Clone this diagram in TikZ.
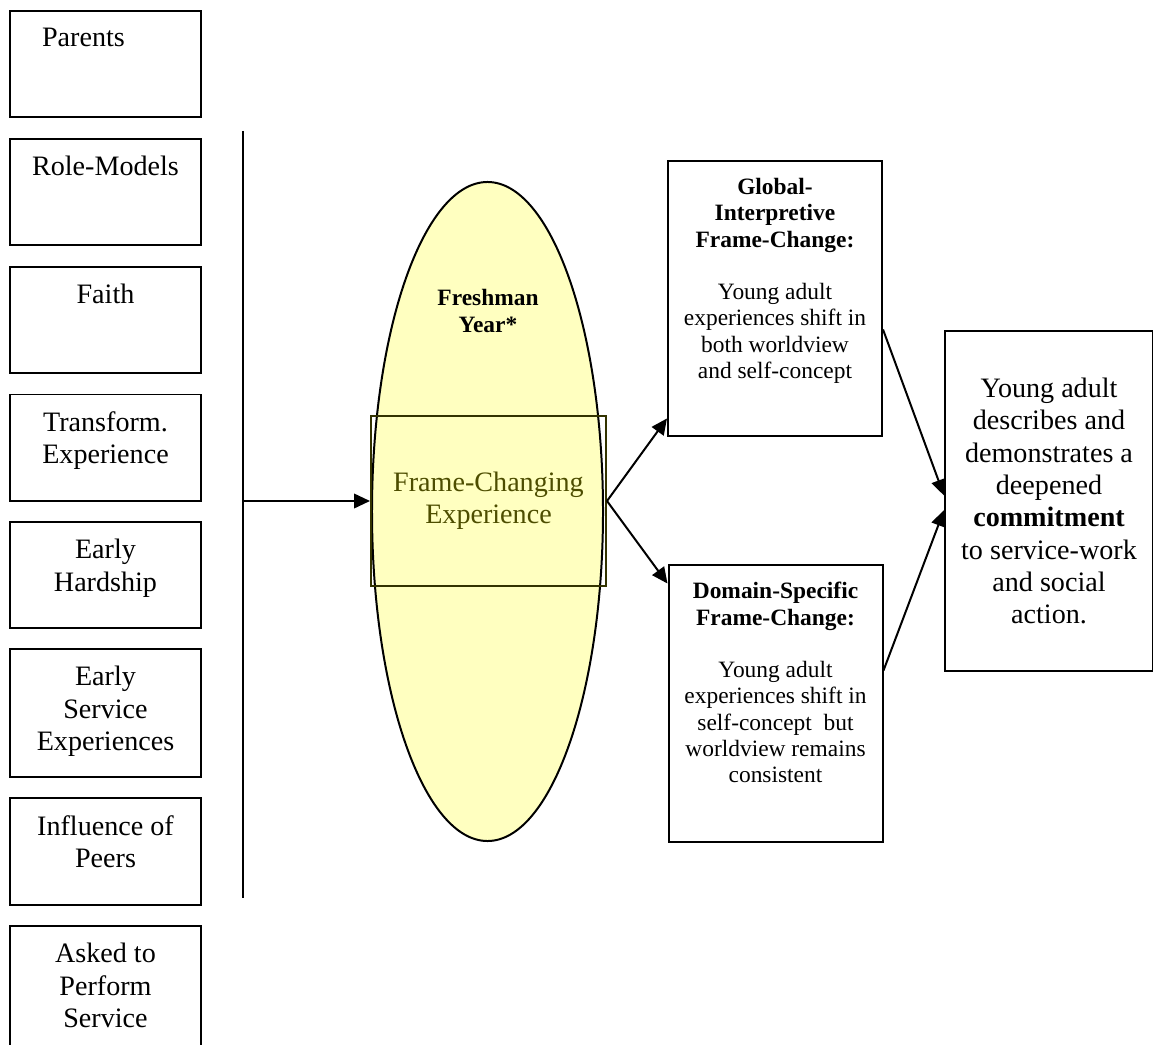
\documentclass[tikz,border=0pt]{standalone}
\usepackage{fontspec}
\setmainfont{Liberation Serif}
\usepackage{xcolor}
\usetikzlibrary{arrows.meta, shapes.geometric}
\definecolor{yearfill}{HTML}{FFFFC0}
\definecolor{olivetext}{HTML}{4D4D00}
\definecolor{olivestroke}{HTML}{333300}
\newcommand{\factorw}{2.865cm}
\newcommand{\factorh}{1.59cm}
\newcommand{\shiftw}{3.21cm}
% text box with fixed size, text starting near the top
\newcommand{\boxtext}[3]{\parbox[c][#2][t]{#1}{\centering\vspace{0.26cm}#3}}
\tikzset{
    factor/.style={rectangle, draw, line width=0.85pt, inner sep=0pt,
    font={\fontsize{12}{13.8}\selectfont}},
    shiftbox/.style={rectangle, draw, line width=0.85pt, inner sep=0pt,
    font={\fontsize{10}{11.2}\selectfont}},
    resultbox/.style={rectangle, draw, line width=0.85pt, minimum width=3.12cm,
    minimum height=5.1cm, align=center, font={\fontsize{12}{13.8}\selectfont}},
    yearshape/.style={ellipse, draw, line width=0.85pt, fill=yearfill,
    minimum width=3.465cm, minimum height=9.885cm, inner sep=0pt},
    framebox/.style={rectangle, draw=olivestroke, line width=0.85pt,
    minimum width=3.525cm, minimum height=2.55cm, align=center, text=olivetext,
    font={\fontsize{12}{13.8}\selectfont}},
    bus/.style={line width=0.85pt},
    arr/.style={-{Triangle[length=6.8pt, width=6.2pt]}, line width=0.85pt},
}

\begin{document}
\begin{tikzpicture}[x=0.015cm, y=-0.015cm]

        \useasboundingbox (0,0) rectangle (1153,1045);

% =========================================================
% LEFT COLUMN — background factors
% =========================================================

        \def\colL{105.5}

        \node[factor] (parents)   at (\colL, 64)    {\boxtext{\factorw}{\factorh}{Parents\hspace*{0.66cm}}};
        \node[factor] (rolemodel) at (\colL, 192)   {\boxtext{\factorw}{\factorh}{Role-Models}};
        \node[factor] (faith)     at (\colL, 320)   {\boxtext{\factorw}{\factorh}{Faith}};
        \node[factor] (transform) at (\colL, 447.5) {\boxtext{\factorw}{\factorh}{Transform.\\Experience}};
        \node[factor] (hardship)  at (\colL, 575)   {\boxtext{\factorw}{\factorh}{Early\\Hardship}};
        \node[factor] (service)   at (\colL, 713)   {\boxtext{\factorw}{1.92cm}{Early\\Service\\Experiences}};
        \node[factor] (peers)     at (\colL, 851.5) {\boxtext{\factorw}{1.605cm}{Influence of\\Peers}};
        \node[factor] (asked)     at (\colL, 990)   {\boxtext{\factorw}{1.92cm}{Asked to\\Perform\\Service}};

        \coordinate (bustop) at (243, 131);
        \coordinate (busmid) at (243, 501);
        \coordinate (busbot) at (243, 898);
        \draw[bus] (bustop) -- (busbot);

% =========================================================
% MIDDLE — freshman year
% =========================================================

        \node[yearshape] (year) at (487.5, 511.5) {};
        \node[font={\bfseries\fontsize{10}{11.2}\selectfont}, align=center] (yearlabel) at (488, 311) {Freshman\\Year*};
        \node[framebox] (frame) at (488.5, 501) {Frame-Changing\\Experience};

        \draw[arr] (busmid) -- (frame.west);

% =========================================================
% RIGHT — two kinds of frame-change, then the outcome
% =========================================================

        \node[shiftbox] (global) at (775, 298.5) {\boxtext{\shiftw}{4.125cm}{\textbf{Global-\\Interpretive\\Frame-Change:}\\[11.2pt]
            Young adult\\experiences shift in\\both worldview\\and self-concept}};
        \node[shiftbox] (domain) at (775.5, 703.5) {\boxtext{\shiftw}{4.155cm}{\textbf{Domain-Specific\\Frame-Change:}\\[11.2pt]
            Young adult\\experiences shift in\\self-concept\ \ but\\worldview remains\\consistent}};

        \node[resultbox] (result) at (1049, 501) {Young adult\\describes and\\demonstrates a\\deepened\\\textbf{commitment}\\to service-work\\and social\\action.};

        \draw[arr] (frame.east) -- (global.228);
        \draw[arr] (frame.east) -- (domain.132);
        \draw[arr] (global.344) -- (result.177);
        \draw[arr] (domain.17) -- (result.185);

\end{tikzpicture}
\end{document}
